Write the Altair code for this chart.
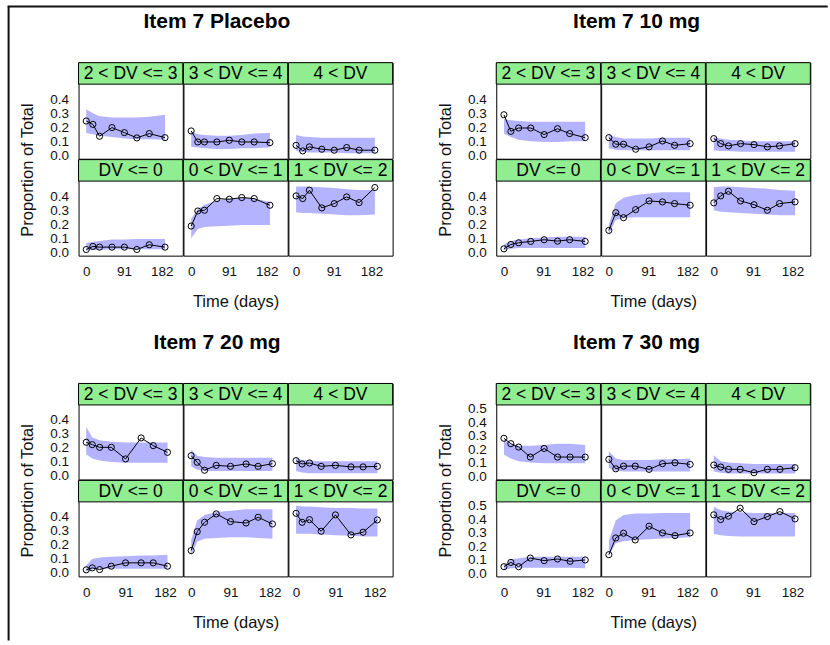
import altair as alt
import pandas as pd

# ---------------- data ----------------
GROUPS = ["Placebo", "10 mg", "20 mg", "30 mg"]
PANELS = ["DV <= 0", "0 < DV <= 1", "1 < DV <= 2", "2 < DV <= 3", "3 < DV <= 4", "4 < DV"]
TOP_ROW = ["2 < DV <= 3", "3 < DV <= 4", "4 < DV"]
BOTTOM_ROW = ["DV <= 0", "0 < DV <= 1", "1 < DV <= 2"]
X_TICKS = [0, 91, 182]
Y_TICKS_A = [0.0, 0.1, 0.2, 0.3, 0.4]
Y_TICKS_B = [0.0, 0.1, 0.2, 0.3, 0.4, 0.5]

PLACEBO_T = [0, 16, 32, 62, 92, 122, 152, 190]
D10_T = [0, 16, 34, 62, 93, 124, 152, 188]
D20_T = [0, 14, 31, 58, 91, 127, 155, 188]
D30_T = [0, 16, 34, 61, 93, 124, 153, 188]

# panel order in each list follows PANELS
PLACEBO_OBS = [
    [0.019, 0.041, 0.036, 0.036, 0.036, 0.019, 0.053, 0.036],
    [0.187, 0.295, 0.300, 0.384, 0.379, 0.391, 0.384, 0.336],
    [0.403, 0.384, 0.444, 0.317, 0.348, 0.396, 0.355, 0.463],
    [0.245, 0.221, 0.136, 0.198, 0.162, 0.124, 0.155, 0.126],
    [0.174, 0.095, 0.095, 0.095, 0.107, 0.095, 0.095, 0.090],
    [0.071, 0.031, 0.060, 0.043, 0.036, 0.055, 0.036, 0.036],
]
PLACEBO_LO = [
    [0.010, 0.015, 0.015, 0.020, 0.020, 0.020, 0.020, 0.020],
    [0.100, 0.165, 0.180, 0.185, 0.190, 0.195, 0.195, 0.195],
    [0.285, 0.280, 0.280, 0.275, 0.270, 0.265, 0.265, 0.270],
    [0.160, 0.150, 0.140, 0.130, 0.120, 0.115, 0.115, 0.110],
    [0.060, 0.055, 0.050, 0.045, 0.045, 0.050, 0.050, 0.055],
    [0.030, 0.025, 0.020, 0.020, 0.020, 0.015, 0.015, 0.015],
]
PLACEBO_HI = [
    [0.065, 0.075, 0.080, 0.090, 0.090, 0.095, 0.095, 0.095],
    [0.240, 0.310, 0.340, 0.370, 0.385, 0.390, 0.385, 0.360],
    [0.470, 0.470, 0.470, 0.465, 0.460, 0.450, 0.445, 0.445],
    [0.330, 0.300, 0.280, 0.270, 0.270, 0.270, 0.275, 0.290],
    [0.170, 0.150, 0.145, 0.140, 0.140, 0.145, 0.155, 0.160],
    [0.145, 0.135, 0.130, 0.125, 0.125, 0.125, 0.125, 0.125],
]

D10_OBS = [
    [0.024, 0.055, 0.067, 0.077, 0.089, 0.079, 0.089, 0.077],
    [0.156, 0.283, 0.247, 0.305, 0.367, 0.360, 0.348, 0.336],
    [0.353, 0.403, 0.436, 0.367, 0.340, 0.300, 0.348, 0.360],
    [0.290, 0.171, 0.195, 0.195, 0.148, 0.190, 0.155, 0.126],
    [0.126, 0.079, 0.079, 0.043, 0.060, 0.102, 0.071, 0.083],
    [0.119, 0.083, 0.067, 0.083, 0.076, 0.060, 0.067, 0.083],
]
D10_LO = [
    [0.015, 0.025, 0.030, 0.030, 0.030, 0.030, 0.030, 0.030],
    [0.130, 0.230, 0.245, 0.250, 0.250, 0.250, 0.250, 0.250],
    [0.300, 0.290, 0.285, 0.280, 0.275, 0.270, 0.265, 0.265],
    [0.155, 0.130, 0.110, 0.100, 0.095, 0.095, 0.100, 0.100],
    [0.050, 0.040, 0.035, 0.035, 0.035, 0.035, 0.035, 0.035],
    [0.035, 0.030, 0.030, 0.025, 0.025, 0.025, 0.025, 0.025],
]
D10_HI = [
    [0.055, 0.080, 0.090, 0.100, 0.105, 0.110, 0.110, 0.110],
    [0.200, 0.350, 0.390, 0.410, 0.420, 0.430, 0.430, 0.430],
    [0.465, 0.470, 0.470, 0.465, 0.460, 0.455, 0.445, 0.440],
    [0.260, 0.250, 0.245, 0.240, 0.240, 0.240, 0.240, 0.240],
    [0.145, 0.130, 0.120, 0.120, 0.120, 0.125, 0.125, 0.125],
    [0.130, 0.120, 0.110, 0.105, 0.100, 0.100, 0.100, 0.100],
]

D20_OBS = [
    [0.017, 0.031, 0.019, 0.043, 0.067, 0.067, 0.067, 0.043],
    [0.155, 0.290, 0.357, 0.417, 0.362, 0.352, 0.393, 0.345],
    [0.421, 0.357, 0.376, 0.293, 0.410, 0.267, 0.286, 0.374],
    [0.236, 0.219, 0.200, 0.200, 0.117, 0.267, 0.212, 0.164],
    [0.140, 0.093, 0.036, 0.071, 0.064, 0.081, 0.064, 0.083],
    [0.105, 0.081, 0.088, 0.064, 0.071, 0.060, 0.060, 0.064],
]
D20_LO = [
    [0.005, 0.020, 0.025, 0.025, 0.025, 0.025, 0.025, 0.025],
    [0.120, 0.220, 0.240, 0.245, 0.250, 0.250, 0.245, 0.240],
    [0.275, 0.275, 0.275, 0.270, 0.265, 0.260, 0.255, 0.255],
    [0.150, 0.120, 0.105, 0.095, 0.090, 0.090, 0.090, 0.090],
    [0.065, 0.040, 0.030, 0.030, 0.030, 0.030, 0.030, 0.030],
    [0.030, 0.020, 0.015, 0.015, 0.015, 0.015, 0.015, 0.015],
]
D20_HI = [
    [0.050, 0.095, 0.105, 0.110, 0.115, 0.120, 0.120, 0.125],
    [0.230, 0.370, 0.410, 0.430, 0.440, 0.450, 0.450, 0.450],
    [0.475, 0.470, 0.470, 0.465, 0.460, 0.460, 0.455, 0.455],
    [0.345, 0.270, 0.250, 0.240, 0.235, 0.235, 0.235, 0.235],
    [0.185, 0.140, 0.130, 0.125, 0.125, 0.125, 0.125, 0.125],
    [0.125, 0.110, 0.105, 0.100, 0.100, 0.100, 0.100, 0.100],
]

D30_OBS = [
    [0.047, 0.079, 0.047, 0.111, 0.092, 0.104, 0.087, 0.097],
    [0.136, 0.260, 0.295, 0.245, 0.347, 0.297, 0.277, 0.297],
    [0.431, 0.396, 0.421, 0.480, 0.381, 0.418, 0.455, 0.401],
    [0.280, 0.240, 0.215, 0.141, 0.205, 0.141, 0.141, 0.141],
    [0.124, 0.054, 0.074, 0.074, 0.050, 0.092, 0.099, 0.087],
    [0.082, 0.067, 0.050, 0.050, 0.025, 0.050, 0.050, 0.062],
]
D30_LO = [
    [0.020, 0.035, 0.040, 0.040, 0.040, 0.040, 0.040, 0.035],
    [0.130, 0.220, 0.235, 0.245, 0.250, 0.255, 0.260, 0.265],
    [0.290, 0.280, 0.275, 0.270, 0.270, 0.270, 0.270, 0.270],
    [0.160, 0.130, 0.110, 0.100, 0.095, 0.095, 0.095, 0.095],
    [0.060, 0.040, 0.035, 0.035, 0.035, 0.035, 0.035, 0.035],
    [0.035, 0.025, 0.020, 0.020, 0.020, 0.020, 0.020, 0.020],
]
D30_HI = [
    [0.060, 0.100, 0.110, 0.120, 0.120, 0.120, 0.120, 0.120],
    [0.240, 0.390, 0.430, 0.440, 0.440, 0.445, 0.445, 0.445],
    [0.490, 0.465, 0.455, 0.450, 0.445, 0.445, 0.445, 0.445],
    [0.270, 0.235, 0.225, 0.225, 0.230, 0.240, 0.240, 0.230],
    [0.185, 0.130, 0.120, 0.120, 0.120, 0.125, 0.125, 0.130],
    [0.155, 0.110, 0.100, 0.095, 0.090, 0.090, 0.090, 0.090],
]

TIMES = [PLACEBO_T, D10_T, D20_T, D30_T]
OBS = [PLACEBO_OBS, D10_OBS, D20_OBS, D30_OBS]
LOS = [PLACEBO_LO, D10_LO, D20_LO, D30_LO]
HIS = [PLACEBO_HI, D10_HI, D20_HI, D30_HI]

rows = []
for g, ts, ob, lo, hi in zip(GROUPS, TIMES, OBS, LOS, HIS):
    for p, o_, l_, h_ in zip(PANELS, ob, lo, hi):
        for t, a, b, c in zip(ts, o_, l_, h_):
            rows.append({"group": g, "panel": p, "time": t, "obs": a, "lo": b, "hi": c})
df = pd.DataFrame(rows)

# ---------------- layout / style ----------------
W = 104.3      # panel width
H = 74.6       # plot height (below strip)
S = 21.5       # strip height
SPW = 102.8    # horizontal gap between groups
SPH = 126.6    # vertical gap between groups
FONT = "Liberation Sans, Arial, sans-serif"
BAND = "#b3b3ff"
STRIP = "#90ee90"

XDOM = {"Placebo": [-18.6, 232.8], "10 mg": [-17.8, 223.3],
        "20 mg": [-17.8, 223.3], "30 mg": [-17.8, 223.3]}
YDOM = {"Placebo": [-0.025, 0.509], "10 mg": [-0.025, 0.509],
        "20 mg": [-0.03, 0.503], "30 mg": [-0.025, 0.527]}
YTICKS = {"Placebo": Y_TICKS_A, "10 mg": Y_TICKS_A, "20 mg": Y_TICKS_A, "30 mg": Y_TICKS_B}
TITLE_DX = {"Placebo": -18.7, "10 mg": -16.7, "20 mg": -18.5, "30 mg": -16.7}


def panel(g, name, ci, ri):
    ylo, yhi = YDOM[g]
    ytop = yhi + S / H * (yhi - ylo)
    base = alt.Chart(df).transform_filter(
        (alt.datum.group == g) & (alt.datum.panel == name)
    )
    xsc = alt.Scale(domain=XDOM[g], nice=False, zero=False)
    ysc = alt.Scale(domain=[ylo, ytop], nice=False, zero=False)

    if ri == 1:
        xkw = dict(values=X_TICKS, grid=False, ticks=False, domain=False, labelFlush=False,
                   labelOverlap=False, labelFont=FONT, labelFontSize=13.5, labelColor="#111",
                   labelPadding=16, labelBaseline="middle")
        if ci == 1:
            xaxis = alt.Axis(title="Time (days)", titleFont=FONT, titleFontSize=16.5,
                             titleFontWeight="normal", titleColor="#111", titleY=46,
                             titleBaseline="middle", **xkw)
        else:
            xaxis = alt.Axis(title=None, **xkw)
    else:
        xaxis = None

    if ci == 0:
        ykw = dict(values=YTICKS[g], format=".1f", grid=False, ticks=False, domain=False,
                   labelOverlap=False, labelFlush=False, labelFont=FONT, labelFontSize=13.5,
                   labelColor="#111", labelPadding=10, labelBaseline="middle")
        if ri == 0:
            yaxis = alt.Axis(title="Proportion of Total", titleFont=FONT, titleFontSize=16.5,
                             titleFontWeight="normal", titleColor="#111", titleAngle=270,
                             titleX=-50.8, titleY=106.9, titleAlign="center",
                             titleBaseline="middle", **ykw)
        else:
            yaxis = alt.Axis(title=None, **ykw)
    else:
        yaxis = None

    X = alt.X("time:Q", scale=xsc, axis=xaxis)
    band = base.mark_area(color=BAND, opacity=1).encode(
        x=X, y=alt.Y("lo:Q", scale=ysc, axis=yaxis), y2="hi:Q")
    line = base.mark_line(color="black", strokeWidth=1).encode(
        x=X, y=alt.Y("obs:Q", scale=ysc, axis=yaxis))
    pts = base.mark_point(shape="circle", filled=False, color="black", size=38,
                          strokeWidth=1, opacity=1).encode(
        x=X, y=alt.Y("obs:Q", scale=ysc, axis=yaxis))

    agg = base.transform_aggregate(n="count()")
    rect = agg.mark_rect(fill=STRIP, stroke="black", strokeWidth=1).encode(
        x=alt.value(0), x2=alt.value(W), y=alt.value(0), y2=alt.value(S))
    txt = agg.mark_text(font=FONT, fontSize=17.5, color="black", align="center",
                        baseline="middle").encode(
        x=alt.value(W / 2), y=alt.value(S / 2 + 0.5), text=alt.value(name))

    layers = [band, line, pts, rect, txt]

    if g == "Placebo" and ci == 0 and ri == 0:
        # outer frame (top and left edges)
        fx0, fx1 = 7.3 - 78.3, 828 - 78.3
        fy0, fy1 = 5.5 - 61.7, 640 - 61.7
        layers.append(agg.mark_rule(color="#111", strokeWidth=2).encode(
            x=alt.value(fx0), x2=alt.value(fx1), y=alt.value(fy0)))
        layers.append(agg.mark_rule(color="#111", strokeWidth=2).encode(
            x=alt.value(fx0 + 1), y=alt.value(fy0), y2=alt.value(fy1)))

    props = dict(width=W, height=S + H)
    if ri == 0 and ci == 1:
        props["title"] = alt.TitleParams(
            text="Item 7 " + g, font=FONT, fontSize=21, fontWeight="bold", color="black",
            anchor="middle", frame="group", dx=TITLE_DX[g], offset=13, baseline="alphabetic")
    return alt.layer(*layers).properties(**props)


def spacer(w, h):
    return alt.Chart(pd.DataFrame({"a": [0]})).mark_point(opacity=0).encode(
        x=alt.value(0), y=alt.value(0)
    ).properties(width=w, height=h, view=alt.ViewBackground(strokeOpacity=0))


cells = []
for left, right in [("Placebo", "10 mg"), ("20 mg", "30 mg")]:
    for ri, row_names in enumerate([TOP_ROW, BOTTOM_ROW]):
        for ci, nm in enumerate(row_names):
            cells.append(panel(left, nm, ci, ri))
        cells.append(spacer(SPW, S + H))
        for ci, nm in enumerate(row_names):
            cells.append(panel(right, nm, ci, ri))
    if left == "Placebo":
        for k in range(7):
            cells.append(spacer(SPW if k == 3 else W, SPH))

chart = alt.concat(
    *cells, columns=7, spacing=0, bounds="flush",
    padding={"left": 5.6, "top": 4.5, "right": 0, "bottom": 0},
).configure_view(stroke="black", strokeWidth=1)

chart.save("out.html", embed_options={"renderer": "svg", "actions": False})
